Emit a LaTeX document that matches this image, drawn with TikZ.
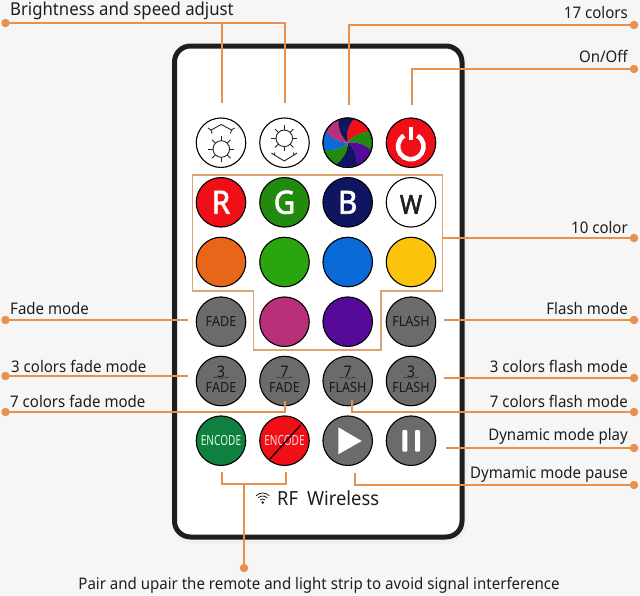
\documentclass[tikz,border=0pt]{standalone}
\usepackage{fontspec}
\usetikzlibrary{calc}
\setmainfont[FakeStretch=0.94]{Noto Sans}
\newfontfamily\btnfont[FakeStretch=0.9]{Noto Sans}
\newfontfamily\encfont[FakeStretch=0.72]{Noto Sans}
\newfontfamily\rgbfont[FakeStretch=0.92,FakeBold=2]{Noto Sans}
\newcommand{\dgt}[1]{\raisebox{0pt}[8pt][0pt]{\fontsize{16}{12}\selectfont #1}}
\definecolor{bgc}{HTML}{F6F6F6}
\definecolor{org}{HTML}{E8914F}
\definecolor{boxo}{HTML}{DFA36F}
\definecolor{inkc}{HTML}{1E1E1E}
\definecolor{gbtn}{HTML}{6B6B6B}
\definecolor{cred}{HTML}{F00F16}
\definecolor{cgrn}{HTML}{238A10}
\definecolor{cnavy}{HTML}{0F1560}
\definecolor{corg}{HTML}{E8661A}
\definecolor{clgr}{HTML}{2AA510}
\definecolor{cblu}{HTML}{0A6AD8}
\definecolor{cyel}{HTML}{FBC30C}
\definecolor{cmag}{HTML}{B8307A}
\definecolor{cpur}{HTML}{560A9A}
\definecolor{cenc}{HTML}{0F8040}
\tikzset{
 btn/.style={circle,draw=black,line width=1.1pt,minimum size=49.5pt,inner sep=0pt,align=center,font=\btnfont\fontsize{14}{12}\selectfont,text=black!90},
 bigl/.style={btn,text=white,font=\rgbfont\fontsize{32}{32}\selectfont},
 enc/.style={btn,font=\encfont\fontsize{14}{12}\selectfont},
 wire/.style={draw=org,line width=1.9pt},
 dotn/.style={circle,fill=org,minimum size=8.5pt,inner sep=0pt},
 lab/.style={font=\fontsize{16}{18}\selectfont,text=inkc,inner sep=0pt},
 labl/.style={lab,anchor=base west},
 labr/.style={lab,anchor=base east},
 iconline/.style={draw=black!85,line width=.9pt},
}
\begin{document}
\begin{tikzpicture}[x=1pt,y=-1pt]
\path[use as bounding box,fill=bgc] (0,0) rectangle (640,595);
% remote
\draw[line width=9pt,black!6,rounded corners=17pt] (175.5,48) rectangle (463,539);
\draw[line width=5pt,draw=inkc,fill=white,rounded corners=16pt] (174.5,46) rectangle (462,537);
% 10 colour box
\draw[draw=boxo,line width=1.5pt] (192.3,175) -- (442.5,175) -- (442.5,291) -- (381,291) -- (381,350) -- (253.5,350) -- (253.5,291) -- (192.3,291) -- cycle;
% buttons
\node[btn,fill=white] (b1) at (221,142.7) {};
\node[btn,fill=white] (b2) at (284.5,142.7) {};
\node[btn,fill=white] (b3) at (347.7,142.7) {};
\node[btn,fill=cred] (b4) at (411,142.7) {};
\node[bigl,fill=cred] (r) at (221,202.3) {R};
\node[bigl,fill=cgrn] (g) at (284.5,202.3) {G};
\node[bigl,fill=cnavy] (bb) at (347.7,202.3) {B};
\node[btn,fill=white] (w) at (411,202.3) {};
\node[anchor=center,text=inkc,font=\rgbfont\fontsize{26}{26}\selectfont,inner sep=0pt] (wl) at (411,204.5) {W};
\node[btn,fill=corg] (c1) at (221,262) {};
\node[btn,fill=clgr] (c2) at (284.5,262) {};
\node[btn,fill=cblu] (c3) at (347.7,262) {};
\node[btn,fill=cyel] (c4) at (411,262) {};
\node[btn,fill=gbtn] (fade) at (221,321.7) {FADE};
\node[btn,fill=cmag] (c5) at (284.5,321.7) {};
\node[btn,fill=cpur] (c6) at (347.7,321.7) {};
\node[btn,fill=gbtn] (flash) at (411,321.7) {FLASH};
\node[btn,fill=gbtn] (f3) at (221,381) {\dgt{3}\\[3.5pt]FADE};
\node[btn,fill=gbtn] (f7) at (284.5,381) {\dgt{7}\\[3.5pt]FADE};
\node[btn,fill=gbtn] (fl7) at (347.7,381) {\dgt{7}\\[3.5pt]FLASH};
\node[btn,fill=gbtn] (fl3) at (411,381) {\dgt{3}\\[3.5pt]FLASH};
\foreach \c in {f3,f7,fl7,fl3}{\draw[black!85,line width=.5pt] ($(\c)+(-8,-4)$) .. controls ($(\c)+(-3,-2.5)$) and ($(\c)+(3,-2.5)$) .. ($(\c)+(8,-4)$);}
\node[enc,fill=cenc,text=white!85!green] (en) at (221,440.7) {ENCODE};
\node[enc,fill=cred,text=white!85!red] (de) at (284.5,440.7) {ENCODE};
\draw[black,line width=1.3pt] (270,459) -- (300.7,425);
\node[btn,fill=gbtn] (play) at (347.7,440.7) {};
\node[btn,fill=gbtn] (pause) at (411,440.7) {};
\fill[white] (338.3,427.3) -- (361.7,441) -- (338.3,454.3) -- cycle;
\fill[white,rounded corners=1pt] (402.3,430) rectangle (407.3,451.7);
\fill[white,rounded corners=1pt] (415,430) rectangle (420,451.7);
% swirl
\begin{scope}[shift={(347.7,142.7)}]
\clip (0,0) circle (24.2);
\foreach \a/\b/\col in {-75/-25/cred,-25/20/cgrn,20/70/cpur,70/120/cnavy,120/165/cgrn,165/210/cblu,210/250/cmag,250/285/cnavy}{
 \fill[fill=\col] (0,0) .. controls (\a-30:8) and (\a-15:18) .. (\a:26)
   arc[start angle=\a,end angle=\b+1,radius=26]
   .. controls (\b-15:18) and (\b-30:8) .. (0,0) -- cycle;
}
\end{scope}
\draw[black,line width=1.1pt] (b3.center) circle (24.7);
% power
\draw[white,line width=4.6pt] (410.8,146.5) ++(-58:12.8) arc[start angle=-58,end angle=238,radius=12.8];
\draw[white,line width=4.2pt] (410.8,126.5) -- (410.8,140);
% sun icons
\foreach \cx/\cy in {221.3/149,284.3/138.3}{
 \draw[iconline] (\cx,\cy) circle (8.3);
 \foreach \a in {0,45,...,315}{\draw[iconline] ($(\cx,\cy)+(\a:8.3)$) -- ($(\cx,\cy)+(\a:13)$);}
}
\draw[iconline] (212,133.5) -- (211,130) -- (221.3,124.5) -- (231.5,130) -- (230.5,133.5);
\draw[iconline] (208,128) -- (211,130) (234.5,128) -- (231.5,130);
\draw[iconline] (275,152.5) -- (274.3,155) -- (284.3,161) -- (294,155) -- (293.5,152.5);
\draw[iconline] (271.5,153) -- (274.3,155) (297,153) -- (294,155);
% wifi
\foreach \rr in {9.5,6.5,3.5}{\draw[inkc,line width=.8pt] (262.7,502.5) ++(-135:\rr) arc[start angle=-135,end angle=-45,radius=\rr];}
\fill[inkc] (262.7,502.5) circle (1.4);
\node[lab,anchor=base west,font=\fontsize{19.5}{20}\selectfont] (rf) at (277,505) {RF\hspace{9pt}Wireless};
% connector ends
\coordinate (e1) at (222,103);
\coordinate (e2) at (285,103);
\coordinate (e3) at (349,105);
\coordinate (e4) at (412,105);
\coordinate (e5) at (443,238);
\coordinate (e6) at (188,320);
\coordinate (e7) at (188,376);
\coordinate (e8) at (285,401);
\coordinate (e9) at (444,320);
\coordinate (e10) at (444,378);
\coordinate (e11) at (352,400);
\coordinate (e12) at (446,448);
\coordinate (e13) at (355,473);
\coordinate (e14) at (222,472);
\coordinate (e15) at (286,472);
\coordinate (e16) at (244,484);
% dots
\node[dotn] (d1) at (5.5,23) {};
\node[dotn] (d2) at (634,25) {};
\node[dotn] (d3) at (634,69) {};
\node[dotn] (d4) at (634,238) {};
\node[dotn] (d5) at (5.5,320) {};
\node[dotn] (d6) at (5.5,376) {};
\node[dotn] (d7) at (5.5,412) {};
\node[dotn] (d8) at (634,320) {};
\node[dotn] (d9) at (634,378) {};
\node[dotn] (d10) at (634,412) {};
\node[dotn] (d11) at (634,448) {};
\node[dotn] (d12) at (634,485) {};
\node[dotn] (d13) at (244,568) {};
% connectors
\draw[wire] (e1) |- (d1.center);
\draw[wire] (e2) |- (d1.center);
\draw[wire] (e3) |- (d2.center);
\draw[wire] (e4) |- (d3.center);
\draw[wire] (e5) -- (d4.center);
\draw[wire] (e6) -- (d5.center);
\draw[wire] (e7) -- (d6.center);
\draw[wire] (e8) |- (d7.center);
\draw[wire] (e9) -- (d8.center);
\draw[wire] (e10) -- (d9.center);
\draw[wire] (e11) |- (d10.center);
\draw[wire] (e12) -- (d11.center);
\draw[wire] (e13) |- (d12.center);
\draw[wire] (e14) |- (e16) -| (e15);
\draw[wire] (e16) -- (d13.center);
% labels
\node[labl,font=\fontsize{17.8}{18}\selectfont] (t1) at (10,15) {Brightness and speed adjust};
\node[labr] (t2) at (628,18.3) {17 colors};
\node[labr] (t3) at (628,62.7) {On/Off};
\node[labr] (t4) at (628,233) {10 color};
\node[labl] (t5) at (10,314) {Fade mode};
\node[labl] (t6) at (11,372.7) {3 colors fade mode};
\node[labl] (t7) at (10,407.3) {7 colors fade mode};
\node[labr] (t8) at (628,314.3) {Flash mode};
\node[labr] (t9) at (628,372.7) {3 colors flash mode};
\node[labr] (t10) at (628,407) {7 colors flash mode};
\node[labr] (t11) at (628,440.7) {Dynamic mode play};
\node[labr] (t12) at (628,478) {Dymamic mode pause};
\node[lab,anchor=base] (t13) at (319,589) {Pair and upair the remote and light strip to avoid signal interference};
\end{tikzpicture}
\end{document}
